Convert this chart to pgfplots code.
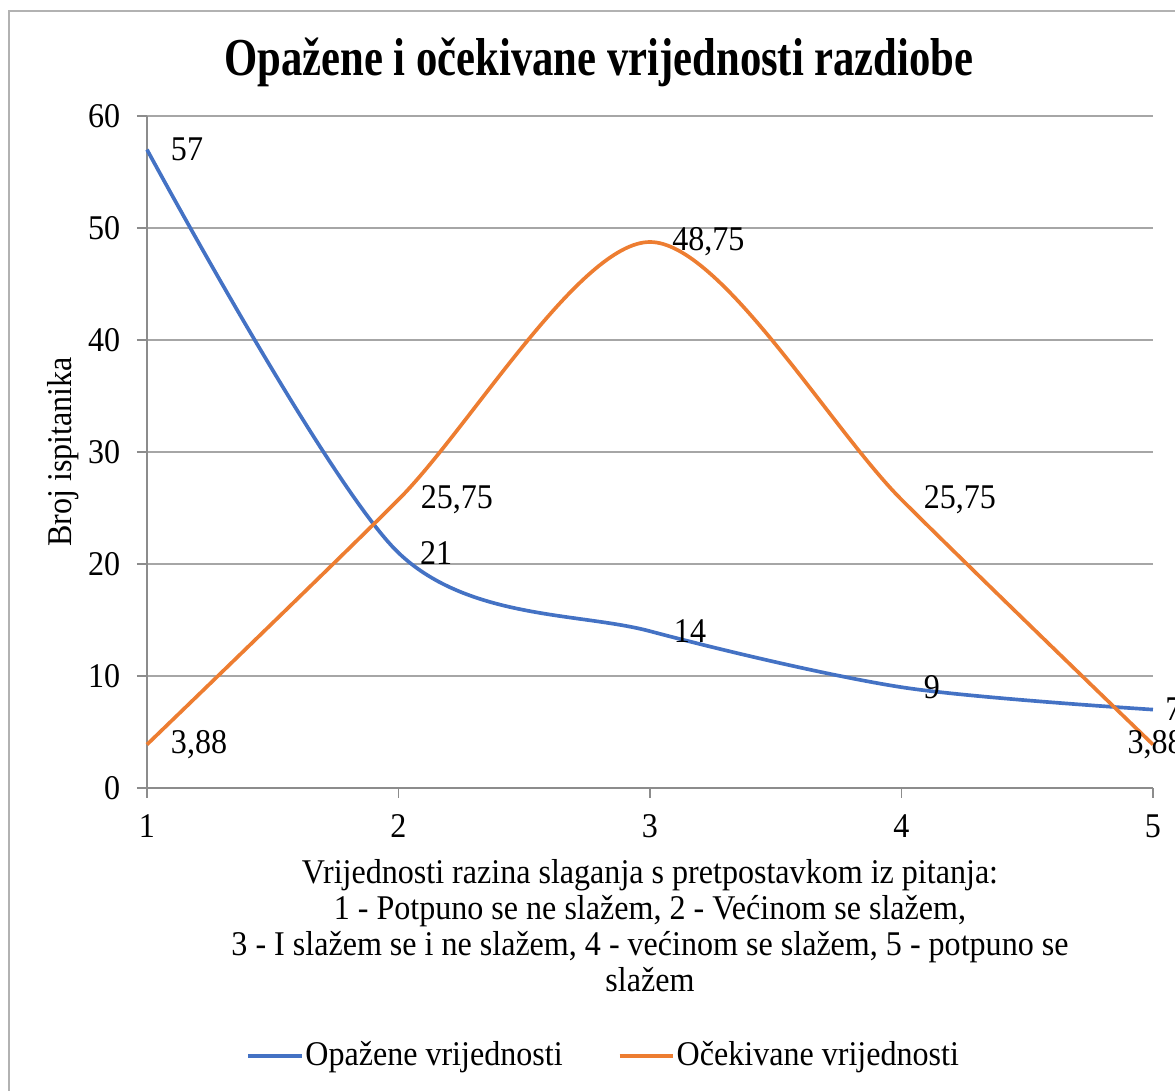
\documentclass[border=0pt]{standalone}
\usepackage{pgfplots}
\pgfplotsset{compat=1.18}
\usepackage{fontspec}
\setmainfont{Liberation Serif}[FakeStretch=0.925]
\newfontfamily\titlefont{Liberation Serif}[FakeStretch=0.8]
\definecolor{blueS}{HTML}{4472C4}
\definecolor{orangeS}{HTML}{ED7D31}
\definecolor{gridc}{HTML}{A6A6A6}
\definecolor{axc}{HTML}{8C8C8C}
\newcommand{\lf}{\fontsize{10.4}{10.8}\selectfont}
\begin{document}
\begin{tikzpicture}[x=0.3pt,y=-0.3pt]
\useasboundingbox (0,0) rectangle (1175,1091);
\clip (0,0) rectangle (1175,1091);
\draw[gray!60, line width=0.6pt] (9,11) rectangle (1200,1120);
\node[font=\titlefont\fontsize{16}{19}\selectfont\bfseries, anchor=base, inner sep=0pt] at (599,76) {Opažene i očekivane vrijednosti razdiobe};
\begin{axis}[
  at={(44.1pt,-236.4pt)}, anchor=south west,
  scale only axis, width=301.8pt, height=201.6pt,
  xmin=1, xmax=5, ymin=0, ymax=60,
  xtick={1,2,3,4,5}, ytick={0,10,20,30,40,50,60},
  axis x line*=bottom, axis y line*=left,
  axis line style={draw=axc, line width=0.5pt},
  tick style={draw=axc, line width=0.5pt},
  tick align=outside, major tick length=3pt,
  ymajorgrids, grid style={draw=gridc, line width=0.5pt},
  /pgf/number format/assume math mode=true,
  tick label style={font=\lf},
  yticklabel style={xshift=-1.5pt},
  xticklabel style={yshift=-1.5pt},
  ylabel={Broj ispitanika},
  ylabel style={font=\lf, at={(axis description cs:-0.0835,0.5)}, anchor=center, rotate=0},
  xlabel={Vrijednosti razina slaganja s pretpostavkom iz pitanja:\\1 - Potpuno se ne slažem, 2 - Većinom se slažem,\\3 - I slažem se i ne slažem, 4 - većinom se slažem, 5 - potpuno se\\slažem},
  xlabel style={font=\lf, align=center, at={(axis description cs:0.5,-0.1054)}, anchor=north, inner sep=0pt},
  clip=false,
  legend columns=2,
  legend style={font=\lf, draw=none, fill=none, at={(axis description cs:0.4538,-0.399)}, anchor=center,
    nodes={inner sep=0.5pt},
    /tikz/every even column/.append style={column sep=16pt}},
  legend image code/.code={\draw[#1, line width=1.2pt] (0pt,0pt) -- (16pt,0pt);},
]
\addplot[blueS, line width=1.1pt, smooth] coordinates {(1,57) (2,21) (3,14) (4,9) (5,7)};
\addlegendentry{Opažene vrijednosti}
\addplot[orangeS, line width=1.1pt, smooth] coordinates {(1,3.88) (2,25.75) (3,48.75) (4,25.75) (5,3.88)};
\addlegendentry{Očekivane vrijednosti}
\begin{scope}[every node/.style={font=\lf, inner sep=0pt, anchor=west}]
\node[xshift=7pt] at (axis cs:1,57) {57};
\node[xshift=6.3pt] at (axis cs:2,21) {21};
\node[xshift=7pt] at (axis cs:3,14) {14};
\node[xshift=6.5pt] at (axis cs:4,9) {9};
\node[xshift=3.5pt] at (axis cs:5,7) {7};
\node[xshift=7pt] at (axis cs:1,3.88) {3,88};
\node[xshift=6.5pt] at (axis cs:2,25.75) {25,75};
\node[xshift=6.5pt] at (axis cs:3,48.75) {48,75};
\node[xshift=6.5pt] at (axis cs:4,25.75) {25,75};
\node[xshift=-7.8pt] at (axis cs:5,3.88) {3,88};
\end{scope}
\end{axis}
\end{tikzpicture}
\end{document}
